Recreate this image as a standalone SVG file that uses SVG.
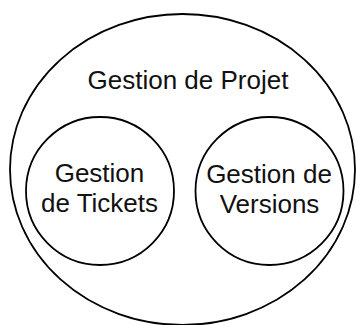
<svg xmlns="http://www.w3.org/2000/svg" width="356" height="325" viewBox="0 0 356 325">
<style>
.shape{fill:none;stroke:#000;stroke-width:1.8}
.lbl{font-family:"Liberation Sans",Arial,Helvetica,sans-serif;font-size:26px;fill:#111;text-anchor:middle}
</style>
<rect width="356" height="325" fill="#fff"/>
<g id="gestion-projet">
<ellipse class="shape" cx="182.5" cy="169.5" rx="172.5" ry="155.5"/>
<text class="lbl" x="188" y="89">Gestion de Projet</text>
</g>
<g id="gestion-tickets">
<circle class="shape" cx="100" cy="191" r="74"/>
<text class="lbl" x="99.5" y="182">Gestion</text>
<text class="lbl" x="99.5" y="212">de Tickets</text>
</g>
<g id="gestion-versions">
<circle class="shape" cx="269.5" cy="191" r="74"/>
<text class="lbl" x="269" y="183">Gestion de</text>
<text class="lbl" x="269.5" y="213">Versions</text>
</g>
<g id="connectors"/>
</svg>
